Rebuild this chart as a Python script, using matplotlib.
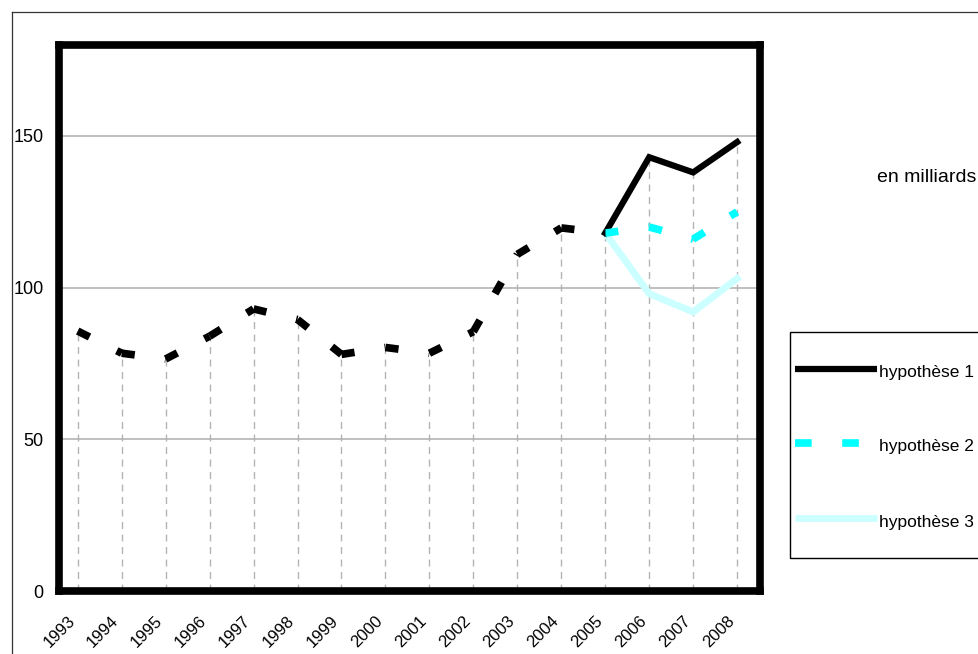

# debt in milliards, 1993-2008, with three hypotheses for 2006-2008

# require
import matplotlib
matplotlib.use( 'Agg' )
import matplotlib.pyplot as plt
from matplotlib.lines import Line2D
from matplotlib.patches import Rectangle

# data
years      = [ 1993, 1994, 1995, 1996, 1997, 1998, 1999, 2000, 2001, 2002, 2003, 2004, 2005, 2006, 2007, 2008 ]
history    = [ 85.7, 78.4, 76.5, 84.0, 93.0, 89.5, 78.0, 80.3, 78.4, 85.5, 111.0, 119.7, 118.0 ]
proj_years = [ 2005, 2006, 2007, 2008 ]
hyp1       = [ 118.0, 143.0, 138.0, 148.0 ]
hyp2       = [ 118.0, 120.0, 116.0, 125.0 ]
hyp3       = [ 118.0, 98.0, 92.0, 103.0 ]
labels     = [ 'hypothèse 1', 'hypothèse 2', 'hypothèse 3' ]
yticks     = [ 0, 50, 100, 150 ]
unit       = 'en milliards'

# configure
COLORS = [ 'black', '#00ffff', '#ccffff' ]
DASH   = ( 9.5, 22 )
GRID   = '#b4b4b4'
plt.rcParams[ 'font.family' ]       = [ 'Liberation Sans', 'DejaVu Sans' ]
plt.rcParams[ 'lines.scale_dashes' ] = False

# a dashed line whose pattern starts over at every point
def dashed( axis, xs, ys, color, width ) :
	for i in range( len( xs ) - 1 ) :
		axis.plot( xs[ i:i+2 ], ys[ i:i+2 ], color=color, lw=width, dashes=DASH, dash_capstyle='butt', zorder=4 )

# initialize the plot
figure = plt.figure( figsize=( 9.79, 6.54 ), dpi=100 )
axis   = figure.add_axes( [ 0.0603, 0.0963, 0.7160, 0.8349 ] )

# grid and drop lines
for y in yticks[ 1: ] : axis.axhline( y, color=GRID, lw=1.2, zorder=1 )
tops = history[ :-1 ] + [ max( a, b, c ) for a, b, c in zip( hyp1, hyp2, hyp3 ) ]
axis.vlines( years, 0, tops, colors=GRID, linestyles=( 0, ( 5, 4 ) ), lw=1, zorder=2 )

# plot
axis.plot( proj_years, hyp3, color=COLORS[ 2 ], lw=5, solid_joinstyle='miter', zorder=3 )
axis.plot( proj_years, hyp1, color=COLORS[ 0 ], lw=4.5, solid_joinstyle='miter', zorder=3 )
dashed( axis, proj_years, hyp2, COLORS[ 1 ], 5.5 )
dashed( axis, years[ :len( history ) ], history, 'black', 5.5 )

# axes
axis.set_xlim( 1992.575, 2008.52 )
axis.set_ylim( 0, 180 )
axis.set_xticks( years )
axis.set_xticklabels( [ str( y ) for y in years ], rotation=45, ha='right', va='top', fontsize=12 )
axis.set_yticks( yticks )
axis.set_yticklabels( [ str( y ) for y in yticks ], fontsize=13 )
axis.tick_params( axis='x', length=0, pad=16 )
axis.tick_params( axis='y', length=0, pad=11 )
for spine in axis.spines.values() : spine.set_linewidth( 5.5 )

# outer frame
figure.add_artist( Line2D( [ 11.5/979, 11.5/979 ], [ 0, 1 - 12/654 ], color='#333333', lw=0.9, transform=figure.transFigure ) )
figure.add_artist( Line2D( [ 11.5/979, 1 ], [ 1 - 12/654, 1 - 12/654 ], color='#333333', lw=0.9, transform=figure.transFigure ) )

# unit
figure.text( 877/979, 1 - 178/654, unit, fontsize=14, ha='left', va='center' )

# legend, drawn by hand
figure.add_artist( Rectangle( ( 790/979, 1 - 558/654 ), 0.3, 226/654, fill=False, edgecolor='black', lw=1, transform=figure.transFigure ) )
rows   = [ 369, 443, 518 ]
widths = [ 4.5, 5.5, 5 ]
for i, label in enumerate( labels ) :
	y    = 1 - rows[ i ]/654
	line = Line2D( [ 795/979, 877/979 ], [ y, y ], color=COLORS[ i ], lw=widths[ i ], solid_capstyle='butt', transform=figure.transFigure )
	if i == 1 : line.set_dashes( ( 12, 22 ) )
	figure.add_artist( line )
	figure.text( 879/979, 1 - ( rows[ i ] + 4 )/654, label, fontsize=12.5, ha='left', va='center' )

# save
plt.savefig( 'out.png', dpi=100 )
